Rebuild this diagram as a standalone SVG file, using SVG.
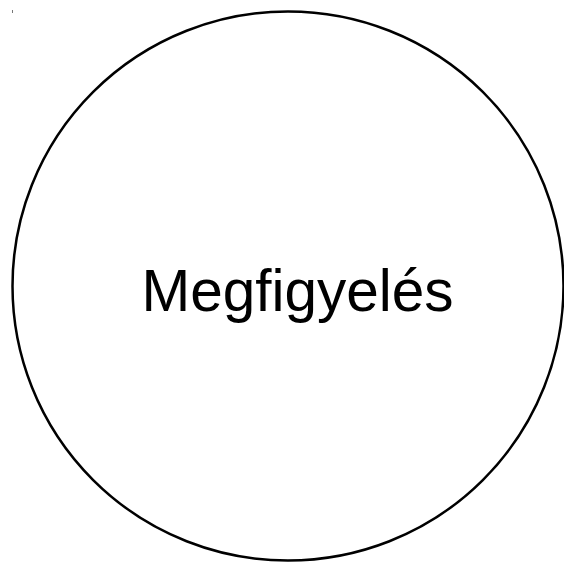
<svg xmlns="http://www.w3.org/2000/svg" width="564" height="563" viewBox="0 0 564 563">
<style>
.node{fill:#ffffff;stroke:#000000;stroke-width:2.5}
.lbl{font-family:"Liberation Sans",Arial,sans-serif;font-size:58.5px;fill:#000000;text-anchor:middle}
</style>
<rect width="564" height="563" fill="#ffffff"/>
<g id="connectors"></g>
<g id="mark"><rect x="12" y="10" width="1" height="3" fill="#777777"/></g>
<g id="node-megfigyeles">
<ellipse class="node" cx="288" cy="286" rx="275.5" ry="274.5"/>
<text class="lbl" x="297.5" y="311">Megfigyelés</text>
</g>
</svg>
